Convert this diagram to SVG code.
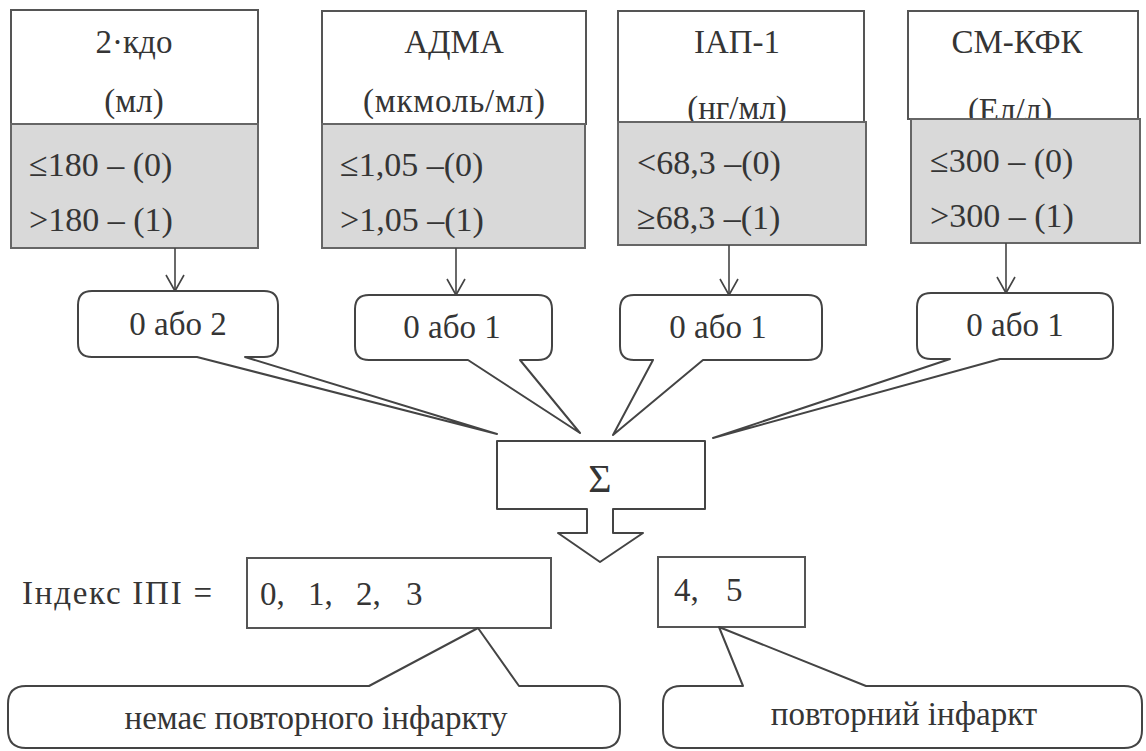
<svg xmlns="http://www.w3.org/2000/svg" width="1146" height="751" viewBox="0 0 1146 751" font-family="'Liberation Serif', 'DejaVu Serif', serif">
<style>
text{font-family:'Liberation Serif','DejaVu Serif',serif;fill:#353535}
.hd{font-size:33px;text-anchor:middle}
.rw{font-size:34px}
.co{font-size:33px;text-anchor:middle}
.bt{font-size:33px}
.box{fill:#fff;stroke:#555;stroke-width:2}
.grey{fill:#d9d9d9;stroke:#666;stroke-width:2}
.shape{fill:#fff;stroke:#444;stroke-width:2;stroke-linejoin:round}
.arr{stroke:#444;stroke-width:1.6;fill:none}
</style>
<defs>
<marker id="vhead" markerUnits="userSpaceOnUse" markerWidth="22" markerHeight="22" viewBox="0 0 22 22" refX="19" refY="11" orient="auto">
<path d="M3,2 L19,11 L3,20" fill="none" stroke="#444" stroke-width="1.6"/>
</marker>
</defs>
<rect width="1146" height="751" fill="#fff"/>

<g id="node-kdo">
<rect class="box" x="11" y="10" width="247" height="114"/>
<text class="hd" x="134" y="53">2·кдо</text>
<text class="hd" x="134" y="112">(мл)</text>
<rect class="grey" x="11" y="124" width="247" height="124"/>
<text class="rw" x="29" y="176">≤180 – (0)</text>
<text class="rw" x="29" y="231">&gt;180 – (1)</text>
</g>

<g id="node-adma">
<rect class="box" x="322" y="11" width="264" height="113"/>
<text class="hd" x="454" y="53">АДМА</text>
<text class="hd" x="454" y="112" textLength="182">(мкмоль/мл)</text>
<rect class="grey" x="322" y="124" width="263" height="124"/>
<text class="rw" x="340" y="176">≤1,05 –(0)</text>
<text class="rw" x="340" y="231">&gt;1,05 –(1)</text>
</g>

<g id="node-iap">
<rect class="box" x="618" y="11" width="246" height="111"/>
<text class="hd" x="737" y="53">ІАП-1</text>
<text class="hd" x="737" y="119">(нг/мл)</text>
<rect class="grey" x="618" y="122" width="248" height="123"/>
<text class="rw" x="637" y="174">&lt;68,3 –(0)</text>
<text class="rw" x="637" y="229">≥68,3 –(1)</text>
</g>

<g id="node-smkfk">
<rect class="box" x="908" y="11" width="230" height="108"/>
<text class="hd" x="1017" y="53">СМ-КФК</text>
<text class="hd" x="1010" y="121">(Ел/л)</text>
<rect class="grey" x="911" y="119" width="229" height="124"/>
<text class="rw" x="930" y="172">≤300 – (0)</text>
<text class="rw" x="930" y="227">&gt;300 – (1)</text>
</g>

<g id="connectors">
<line class="arr" x1="175" y1="248" x2="175" y2="291" marker-end="url(#vhead)"/>
<line class="arr" x1="456" y1="248" x2="456" y2="295" marker-end="url(#vhead)"/>
<line class="arr" x1="729" y1="245" x2="729" y2="295" marker-end="url(#vhead)"/>
<line class="arr" x1="1006" y1="243" x2="1006" y2="293" marker-end="url(#vhead)"/>
</g>

<g id="callout-1">
<path class="shape" d="M92,291 H264 Q278,291 278,305 V343 Q278,357 264,357 H245 L497,434 L197,357 H92 Q78,357 78,343 V305 Q78,291 92,291 Z"/>
<text class="co" x="178" y="335">0 або 2</text>
</g>
<g id="callout-2">
<path class="shape" d="M369,295 H538 Q552,295 552,309 V346 Q552,360 538,360 H520 L580,433 L468,360 H369 Q355,360 355,346 V309 Q355,295 369,295 Z"/>
<text class="co" x="452" y="338">0 або 1</text>
</g>
<g id="callout-3">
<path class="shape" d="M634,295 H808 Q822,295 822,309 V346 Q822,360 808,360 H703 L613,435 L653,360 H634 Q620,360 620,346 V309 Q620,295 634,295 Z"/>
<text class="co" x="718" y="338">0 або 1</text>
</g>
<g id="callout-4">
<path class="shape" d="M931,293 H1099 Q1113,293 1113,307 V345 Q1113,359 1099,359 H1000 L713,438 L950,359 H931 Q917,359 917,345 V307 Q917,293 931,293 Z"/>
<text class="co" x="1015" y="336">0 або 1</text>
</g>

<g id="node-sum">
<path class="shape" d="M497,441 H705 V509 H613 V533 H643 L600,562 L558,533 H587 V509 H497 Z"/>
<text x="600" y="492" font-size="40" text-anchor="middle">Σ</text>
</g>

<g id="label-index">
<text class="bt" x="22" y="604" font-size="35" textLength="190">Індекс ІПІ =</text>
</g>

<g id="node-low">
<rect class="box" x="247" y="558" width="304" height="70"/>
<text class="bt" y="605" font-size="34"><tspan x="260">0,</tspan><tspan x="308">1,</tspan><tspan x="356">2,</tspan><tspan x="406">3</tspan></text>
</g>

<g id="node-high">
<rect class="box" x="658" y="557" width="147" height="70"/>
<text class="bt" y="601" font-size="34"><tspan x="674">4,</tspan><tspan x="726">5</tspan></text>
</g>

<g id="callout-no">
<path class="shape" d="M26,686 H369 L478,628 L519,686 H602 Q620,686 620,704 V730 Q620,748 602,748 H26 Q8,748 8,730 V704 Q8,686 26,686 Z"/>
<text class="bt" x="316" y="729" text-anchor="middle">немає повторного інфаркту</text>
</g>

<g id="callout-yes">
<path class="shape" d="M681,686 H743 L719,627 L866,686 H1124 Q1142,686 1142,704 V730 Q1142,748 1124,748 H681 Q663,748 663,730 V704 Q663,686 681,686 Z"/>
<text class="bt" x="904" y="725" text-anchor="middle">повторний інфаркт</text>
</g>
</svg>
